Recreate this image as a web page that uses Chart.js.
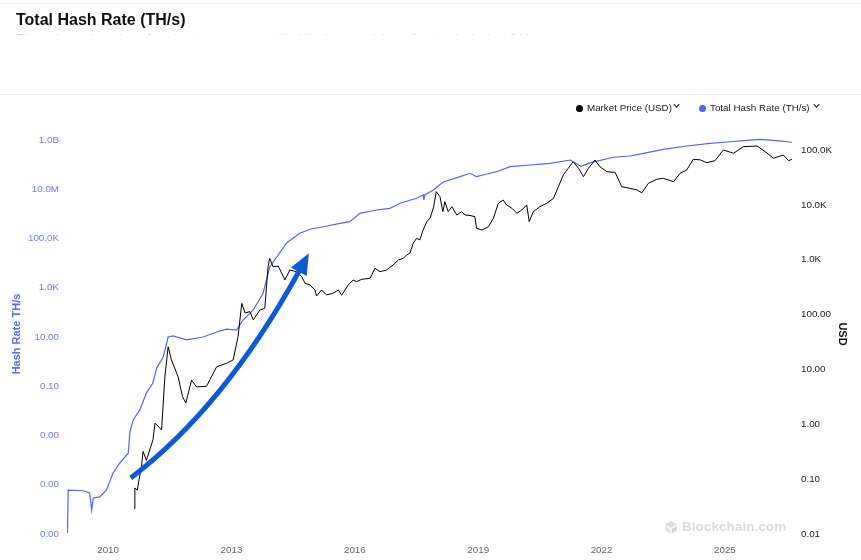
<!DOCTYPE html>
<html>
<head>
<meta charset="utf-8">
<title>Total Hash Rate (TH/s)</title>
<script src="https://cdn.jsdelivr.net/npm/chart.js@4.4.1/dist/chart.umd.min.js"></script>
<style>
  html, body { margin: 0; padding: 0; background: #fff; }
  body { width: 861px; height: 560px; position: relative; overflow: hidden;
         font-family: "Liberation Sans", Arial, sans-serif; }
  #chart { position: absolute; left: 0; top: 0; }
  .rule-top { position: absolute; left: 0; top: 3px; width: 861px; height: 1px; background: #f5f5f5; }
  .rule { position: absolute; left: 0; top: 94px; width: 861px; height: 1px; background: #ececec; }
  .title { position: absolute; left: 16px; top: 11px; font-size: 16px; font-weight: bold; color: #111; line-height: 18px; }
  .sub { position: absolute; left: 17px; top: 32px; width: 540px; height: 3px; overflow: hidden; }
  .sub span { display: block; font-size: 12px; line-height: 14px; color: #d4d4d4; white-space: nowrap; }
  .lg { position: absolute; top: 102px; font-size: 9.8px; line-height: 12px; color: #222; white-space: nowrap; }
  .dot { position: absolute; width: 7px; height: 7px; border-radius: 50%; top: 105px; }
  .chev { position: absolute; top: 103px; }
  .wm { position: absolute; left: 682px; top: 518px; font-size: 13.6px; font-weight: bold; color: #dadada; line-height: 17px; }
  .wm-logo { position: absolute; left: 664px; top: 520px; }
</style>
</head>
<body>
<canvas id="chart" width="861" height="560"></canvas>
<div class="rule-top"></div>
<div class="title">Total Hash Rate (TH/s)</div>
<div class="sub"><span>The estimated number of terahashes per second the bitcoin network is performing in the last 24 hours.</span></div>
<div class="rule"></div>

<div class="dot" style="left:576px;background:#000"></div>
<div class="lg" style="left:587px">Market Price (USD)</div>
<svg class="chev" style="left:673px" width="7" height="6"><polyline points="0.8,1.2 3.5,4.2 6.2,1.2" fill="none" stroke="#222" stroke-width="1.1"/></svg>
<div class="dot" style="left:699px;background:#4f66f0"></div>
<div class="lg" style="left:710px">Total Hash Rate (TH/s)</div>
<svg class="chev" style="left:813px" width="7" height="6"><polyline points="0.8,1.2 3.5,4.2 6.2,1.2" fill="none" stroke="#222" stroke-width="1.1"/></svg>

<svg class="wm-logo" width="14" height="14" viewBox="0 0 14 14">
  <polygon points="7,1 13,4.5 7,8 1,4.5" fill="#dcdcdc"/>
  <polygon points="1,6 6.3,9.1 6.3,13.4 1,10.3" fill="#e2e2e2"/>
  <polygon points="13,6 7.7,9.1 7.7,13.4 13,10.3" fill="#d4d4d4"/>
</svg>
<div class="wm">Blockchain.com</div>

<script>
// values
const hashYears = [2009.01, 2009.03, 2009.39, 2009.55, 2009.60, 2009.64, 2009.80, 2009.96,
  2010.12, 2010.28, 2010.49, 2010.53, 2010.61, 2010.77, 2010.93, 2011.09, 2011.18, 2011.34,
  2011.46, 2011.58, 2011.91, 2012.31, 2012.64, 2012.88, 2013.12, 2013.28, 2013.53, 2013.77,
  2013.93, 2014.10, 2014.34, 2014.66, 2014.91, 2015.23, 2015.64, 2015.88, 2016.12, 2016.53,
  2016.85, 2017.10, 2017.50, 2017.66, 2017.68, 2017.70, 2017.91, 2018.15, 2018.56, 2018.80,
  2018.96, 2019.21, 2019.45, 2019.77, 2020.26, 2020.75, 2021.24, 2021.50, 2021.73, 2022.29,
  2022.69, 2023.02, 2023.50, 2024.07, 2024.64, 2025.13, 2025.45, 2025.86, 2026.26, 2026.63];
const hashValues = [1.1e-7, 6.1e-6, 5.7e-6, 4.6e-6, 9.4e-7, 2.9e-6, 3.2e-6, 6.1e-6,
  3.0e-5, 7.6e-5, 1.9e-4, 1.4e-3, 4.3e-3, 0.011, 0.053, 0.136, 0.55, 1.54,
  10, 11, 7.6, 10, 16, 21, 19, 49, 125, 612,
  7000, 17700, 65600, 163000, 237000, 301000, 414000, 481000, 1.05e6, 1.44e6,
  1.68e6, 2.69e6, 4.29e6, 5.84e6, 3.66e6, 5.9e6, 9.3e6, 1.97e7, 3.24e7, 4.45e7,
  3.24e7, 4.16e7, 5.16e7, 8.24e7, 9.66e7, 1.13e8, 1.54e8, 8.5e7, 1.20e8, 1.99e8,
  2.24e8, 2.88e8, 4.19e8, 5.7e8, 7.3e8, 8.5e8, 9.4e8, 1.07e9, 9.4e8, 8.1e8];

const priceYears = [2010.63, 2010.65, 2010.71, 2010.75, 2010.81, 2010.85, 2010.93, 2011.09,
  2011.14, 2011.30, 2011.38, 2011.46, 2011.54, 2011.70, 2011.81, 2011.89, 2012.03, 2012.15,
  2012.39, 2012.64, 2012.88, 2013.04, 2013.16, 2013.25, 2013.33, 2013.45, 2013.53, 2013.69,
  2013.81, 2013.89, 2013.93, 2014.01, 2014.14, 2014.30, 2014.42, 2014.58, 2014.71, 2014.79,
  2014.91, 2015.03, 2015.07, 2015.19, 2015.31, 2015.47, 2015.60, 2015.68, 2015.84, 2015.96,
  2016.04, 2016.17, 2016.37, 2016.49, 2016.61, 2016.77, 2016.93, 2017.06, 2017.18, 2017.26,
  2017.34, 2017.42, 2017.50, 2017.58, 2017.66, 2017.75, 2017.83, 2017.91, 2017.98, 2018.07,
  2018.14, 2018.19, 2018.27, 2018.36, 2018.48, 2018.60, 2018.68, 2018.80, 2018.92, 2018.96,
  2019.09, 2019.25, 2019.37, 2019.49, 2019.61, 2019.69, 2019.82, 2019.94, 2020.06, 2020.18,
  2020.24, 2020.34, 2020.50, 2020.67, 2020.83, 2020.95, 2021.07, 2021.19, 2021.31, 2021.44,
  2021.56, 2021.68, 2021.84, 2021.96, 2022.13, 2022.33, 2022.49, 2022.69, 2022.86, 2022.98,
  2023.14, 2023.34, 2023.50, 2023.75, 2023.91, 2024.07, 2024.23, 2024.40, 2024.56, 2024.76,
  2024.96, 2025.21, 2025.45, 2025.78, 2025.98, 2026.18, 2026.42, 2026.55, 2026.63];
const priceValues = [0.029, 0.069, 0.063, 0.096, 0.166, 0.32, 0.22, 0.52,
  1.05, 0.79, 7.3, 25.9, 14.9, 7.4, 3.2, 2.44, 6.4, 4.8,
  4.9, 11.2, 12.9, 14.9, 39.5, 160, 107, 113, 80, 121,
  130, 745, 1060, 745, 760, 427, 649, 604, 490, 372,
  346, 281, 218, 281, 228, 244, 280, 225, 346, 427,
  397, 439, 458, 697, 604, 649, 800, 988, 1060, 1220,
  1310, 1990, 2450, 2290, 3480, 4930, 5750, 8760, 17400, 14100,
  7500, 11400, 7500, 9250, 6530, 7500, 6530, 6400, 6080, 3730,
  3480, 4000, 5690, 10700, 12200, 9930, 8650, 7010, 8050, 9930,
  4930, 7500, 9250, 10700, 13100, 21400, 35000, 46300, 61100, 46300,
  32600, 46000, 65600, 49500, 40200, 39000, 21400, 20000, 18700, 16600,
  24700, 29200, 30500, 26400, 37600, 43100, 67600, 66000, 58600, 63800,
  100000, 87100, 115000, 118000, 93100, 70500, 81100, 63800, 67600];

const yearTicks = [2010, 2013, 2016, 2019, 2022, 2025];
const hashTicks = [1e-7, 1e-5, 1e-3, 1e-1, 1e1, 1e3, 1e5, 1e7, 1e9];
const priceTicks = [0.01, 0.1, 1, 10, 100, 1e3, 1e4, 1e5];

// the hand-drawn blue arrow, in (year, hash rate) terms: start, bend, end
const arrowPath = [[2010.55, 1.9e-5], [2012.83, 0.0144], [2014.66, 5260]];

const FONT = '"Liberation Sans", Arial, sans-serif';

function fmt(v) {
  if (v >= 1e9) return (v / 1e9).toFixed(1) + 'B';
  if (v >= 1e6) return (v / 1e6).toFixed(1) + 'M';
  if (v >= 1e3) return (v / 1e3).toFixed(1) + 'K';
  return v.toFixed(2);
}

const arrowPlugin = {
  id: 'arrow',
  afterDatasetsDraw(chart) {
    const xs = chart.scales.x, ys = chart.scales.yHash, ctx = chart.ctx;
    const p = arrowPath.map(([a, b]) => [xs.getPixelForValue(a), ys.getPixelForValue(b)]);
    ctx.save();
    ctx.strokeStyle = '#0b5bd4';
    ctx.fillStyle = '#0b5bd4';
    ctx.lineWidth = 5;
    ctx.beginPath();
    ctx.moveTo(p[0][0], p[0][1]);
    ctx.quadraticCurveTo(p[1][0], p[1][1], p[2][0], p[2][1]);
    ctx.stroke();
    // head
    let dx = p[2][0] - p[1][0], dy = p[2][1] - p[1][1];
    const len = Math.hypot(dx, dy);
    dx /= len; dy /= len;
    const ex = p[2][0] - dx * 2, ey = p[2][1] - dy * 2;
    ctx.beginPath();
    ctx.moveTo(ex + dx * 21, ey + dy * 21);
    ctx.lineTo(ex - dy * 9, ey + dx * 9);
    ctx.lineTo(ex + dy * 9, ey - dx * 9);
    ctx.closePath();
    ctx.fill();
    ctx.restore();
  }
};

new Chart(document.getElementById('chart').getContext('2d'), {
  type: 'line',
  data: {
    datasets: [
      {
        label: 'Market Price (USD)',
        data: priceYears.map((t, i) => ({ x: t, y: priceValues[i] })),
        yAxisID: 'yPrice',
        borderColor: '#000',
        borderWidth: 1,
        pointRadius: 0,
        tension: 0,
      },
      {
        label: 'Total Hash Rate (TH/s)',
        data: hashYears.map((t, i) => ({ x: t, y: hashValues[i] })),
        yAxisID: 'yHash',
        borderColor: '#4f66f0',
        borderWidth: 1.2,
        pointRadius: 0,
        tension: 0,
      },
    ],
  },
  options: {
    responsive: false,
    animation: false,
    layout: { padding: { top: 134, left: 0, right: 0, bottom: 0 } },
    plugins: {
      legend: { display: false },
      tooltip: { enabled: false },
    },
    scales: {
      x: {
        type: 'linear',
        position: 'bottom',
        min: 2009.0,
        max: 2026.68,
        grid: { display: false, drawTicks: false },
        border: { display: false },
        ticks: {
          autoSkip: false, maxRotation: 0, padding: 10,
          color: '#666', font: { size: 9.8, family: FONT },
          callback: (v) => String(v),
        },
        afterBuildTicks: (s) => { s.ticks = yearTicks.map((v) => ({ value: v })); },
        afterFit: (s) => { s.height = 26; },
      },
      yHash: {
        type: 'logarithmic',
        position: 'left',
        min: 1e-7,
        max: Math.pow(10, 9.244),
        grid: { display: false, drawTicks: false },
        border: { display: false },
        ticks: {
          autoSkip: false, padding: 8,
          color: '#6b7ff0', font: { size: 9.8, family: FONT },
          callback: (v) => fmt(v),
        },
        title: {
          display: true, text: 'Hash Rate TH/s', color: '#5a6ff0',
          font: { size: 11, weight: 'bold', family: FONT },
          padding: { top: 10, bottom: 0 },
        },
        afterBuildTicks: (s) => { s.ticks = hashTicks.map((v) => ({ value: v })); },
        afterFit: (s) => { s.width = 67; },
      },
      yPrice: {
        type: 'logarithmic',
        position: 'right',
        min: 0.01,
        max: Math.pow(10, 5.291),
        grid: { display: false, drawTicks: false },
        border: { display: false },
        ticks: {
          autoSkip: false, padding: 7,
          color: '#222', font: { size: 9.8, family: FONT },
          callback: (v) => fmt(v),
        },
        title: {
          display: true, text: 'USD', color: '#111',
          font: { size: 11, weight: 'bold', family: FONT },
          padding: { top: 12, bottom: 0 },
        },
        afterBuildTicks: (s) => { s.ticks = priceTicks.map((v) => ({ value: v })); },
        afterFit: (s) => { s.width = 67; },
      },
    },
  },
  plugins: [arrowPlugin],
});
</script>
</body>
</html>
